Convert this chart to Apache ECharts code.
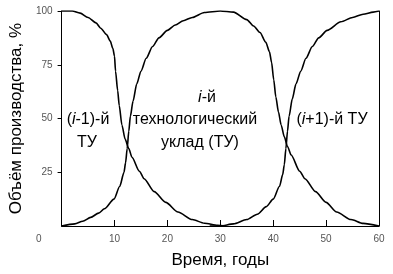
<!DOCTYPE html>
<html>
<head>
<meta charset="utf-8">
<script src="https://cdn.jsdelivr.net/npm/echarts@6/dist/echarts.min.js"></script>
<style>
html,body{margin:0;padding:0;background:#fff;}
#c{width:393px;height:274px;}
</style>
</head>
<body>
<div id="c"></div>
<script>
var xTicks = [0, 10, 20, 30, 40, 50, 60];
var yTicks = [0, 25, 50, 75, 100];

// (i-1)-й ТУ
var prevTU = [[0,100],[2,100],[3.5,99],[5,97],[6.5,94.5],[7.4,92],[8.5,89],[9.2,86],[9.7,82.5],[10,79],[10.2,72],[10.6,63],[10.9,56],[11.4,47],[12,40.5],[12.7,36],[13.3,32],[14.7,25.5],[15.6,22],[17.5,16],[19.7,11],[22,6.5],[24.7,3],[27,1.3],[29.5,0.3],[31,0]];
// i-й ТУ
var curTU = [[0,0],[2.5,1],[4,2.2],[5.5,4],[7,6],[8.1,8],[9.9,12.5],[11,18.5],[11.8,25],[12.1,29.5],[12.4,36],[12.7,44],[13,51],[13.5,58],[14.2,66],[15,72],[16,78],[17.2,83.5],[18.4,87.5],[20,91],[21.5,93.5],[23,95.5],[24.7,97],[27,99.3],[30,100],[32.5,99.5],[35,96],[36.3,93],[37.5,90],[38.6,85.5],[39.3,81],[39.7,76],[40.1,68],[40.5,60],[41,53],[41.5,47],[42.1,41.5],[42.7,37],[43.4,33],[45,25.5],[46,22],[48,16],[50,11],[52,6.5],[54.7,3],[57,1.2],[60,0]];
// (i+1)-й ТУ
var nextTU = [[28,0],[30,0],[32.5,1],[35,3],[37,5.5],[38.7,9],[40,12.5],[41.2,18.5],[41.8,24],[42.1,28.5],[42.4,36],[42.7,44],[43,51],[43.6,59],[44.3,66],[45.2,72],[46.2,78],[47.4,83.5],[48.6,87.5],[50.2,91],[52.8,95],[55,97],[57,98.5],[58.9,99.5],[60,100]];

var chart = echarts.init(document.getElementById('c'));
var FONT = 'Liberation Sans, Arial, sans-serif';
function lineSeries(data){
  return {type:'line', data:data, showSymbol:false, smooth:0.25, smoothMonotone:'x',
    lineStyle:{color:'#000', width:1.6}, animation:false, z:3};
}
chart.setOption({
  animation:false,
  grid:{left:53, right:14, top:11, bottom:47},
  xAxis:{type:'value', min:xTicks[0], max:xTicks[xTicks.length-1], interval:10,
    name:'Время, годы', nameLocation:'middle', nameGap:26,
    nameTextStyle:{fontFamily:FONT, fontSize:17, color:'#000'},
    axisLine:{lineStyle:{color:'#000', width:1}},
    axisTick:{inside:true, length:6, lineStyle:{color:'#000'}},
    axisLabel:{showMinLabel:false, fontFamily:FONT, fontSize:10, color:'#555', margin:8},
    splitLine:{show:false}},
  yAxis:[{type:'value', min:yTicks[0], max:yTicks[yTicks.length-1], interval:25,
    name:'Объём производства, %', nameLocation:'middle', nameGap:30,
    nameTextStyle:{fontFamily:FONT, fontSize:17, color:'#000'},
    axisLine:{show:true, lineStyle:{color:'#000', width:1}},
    axisTick:{show:true, length:4, lineStyle:{color:'#000'}},
    axisLabel:{showMinLabel:false, fontFamily:FONT, fontSize:10, color:'#555', margin:9},
    splitLine:{show:false}},
   {type:'value', min:0, max:100, interval:25, position:'right',
    axisLine:{show:true, lineStyle:{color:'#000', width:1}},
    axisTick:{show:false}, axisLabel:{show:false}, splitLine:{show:false}}],
  graphic:[
    {type:'text', left:36, top:234, style:{text:'0', font:'10px '+FONT, fill:'#555'}},
    {type:'text', x:88, y:120, style:{text:'({it|i}-1)-й', font:'16px '+FONT, fill:'#000', align:'center', verticalAlign:'middle',
      rich:{it:{fontStyle:'italic', fontSize:16, fontFamily:FONT}}}},
    {type:'text', x:87, y:143, style:{text:'ТУ', font:'16px '+FONT, fill:'#000', align:'center', verticalAlign:'middle'}},
    {type:'text', x:207, y:98, style:{text:'{it|i}-й', font:'16px '+FONT, fill:'#000', align:'center', verticalAlign:'middle',
      rich:{it:{fontStyle:'italic', fontSize:16, fontFamily:FONT}}}},
    {type:'text', x:195, y:120, style:{text:'технологический', font:'16px '+FONT, fill:'#000', align:'center', verticalAlign:'middle'}},
    {type:'text', x:200, y:143, style:{text:'уклад (ТУ)', font:'16px '+FONT, fill:'#000', align:'center', verticalAlign:'middle'}},
    {type:'text', x:332, y:120, style:{text:'({it|i}+1)-й ТУ', font:'16px '+FONT, fill:'#000', align:'center', verticalAlign:'middle',
      rich:{it:{fontStyle:'italic', fontSize:16, fontFamily:FONT}}}}
  ],
  series:[lineSeries(prevTU), lineSeries(curTU), lineSeries(nextTU)]
});
</script>
</body>
</html>
